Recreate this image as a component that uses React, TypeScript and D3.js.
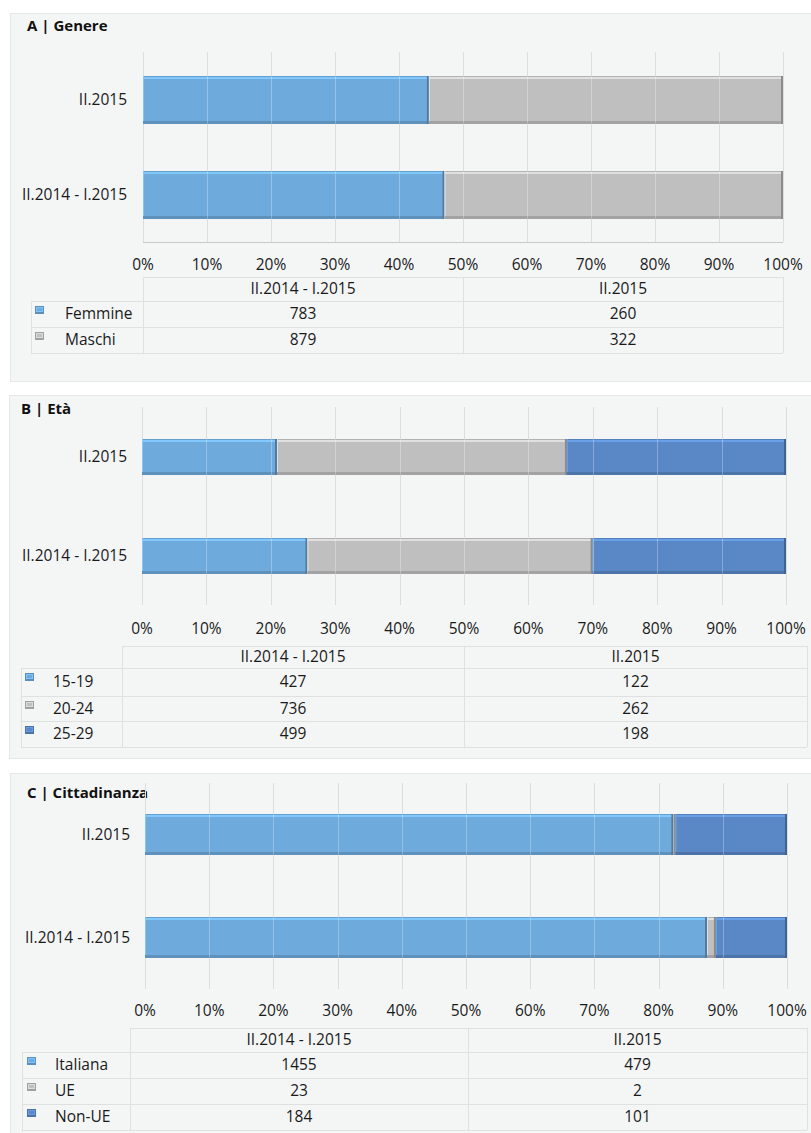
import React from "react";
import * as d3 from "d3";

// ---------- DATA ----------
const barPeriods = ["II.2015", "II.2014 - I.2015"]; // top to bottom in the bar chart
const tablePeriods = ["II.2014 - I.2015", "II.2015"]; // table column order
const tickValues = [0, 0.1, 0.2, 0.3, 0.4, 0.5, 0.6, 0.7, 0.8, 0.9, 1.0];

const genereTitle = "A | Genere";
const genereSeries = ["Femmine", "Maschi"];
const genereOld = [783, 879];
const genereNew = [260, 322];

const etaTitle = "B | Età";
const etaSeries = ["15-19", "20-24", "25-29"];
const etaOld = [427, 736, 499];
const etaNew = [122, 262, 198];

const cittTitle = "C | Cittadinanza";
const cittSeries = ["Italiana", "UE", "Non-UE"];
const cittOld = [1455, 23, 184];
const cittNew = [479, 2, 101];

const seriesColors = ["#6eaadb", "#bfbfbf", "#5a88c6"];

// ---------- LAYOUT ----------
const FONT = "'Open Sans', 'Noto Sans', sans-serif";
const FS = 15.5;
const TXT = "#1a1a1a";

type Layout = {
  bg: [number, number, number, number];
  titleX: number;
  titleY: number;
  x0: number;
  x1: number;
  gy0: number;
  gy1: number;
  barH: number;
  axisLine: boolean;
  tickY: number;
  catX: number;
  tLeft: number;
  tLab: number;
  tMid: number;
  tRight: number;
  rows: number[];
  markerX: number;
  labelX: number;
};

function Bar({ x, y, w, h, color }: { x: number; y: number; w: number; h: number; color: string }) {
  if (w <= 0) return null;
  const c = d3.color(color)!;
  const light = c.brighter(0.45).formatHex();
  const dark = c.darker(0.45).formatHex();
  const darker = c.darker(0.9).formatHex();
  return (
    <g>
      <rect x={x} y={y} width={w} height={h} fill={color} />
      <rect x={x} y={y} width={w} height={1} fill={c.darker(0.2).formatHex()} />
      <rect x={x} y={y + 1} width={w} height={2} fill={light} />
      <rect x={x} y={y} width={Math.min(1, w)} height={h} fill={light} />
      <rect x={x} y={y + h - 3} width={w} height={3} fill={dark} />
      <rect x={Math.max(x, x + w - 2)} y={y} width={Math.min(2, w)} height={h} fill={darker} />
    </g>
  );
}

function Marker({ x, y, color }: { x: number; y: number; color: string }) {
  const c = d3.color(color)!;
  return (
    <g>
      <rect x={x} y={y} width={9} height={8} fill={c.darker(0.5).formatHex()} />
      <rect x={x + 1} y={y + 1} width={7} height={5} fill={c.brighter(0.4).formatHex()} />
      <rect x={x + 2} y={y + 2} width={5} height={3} fill={color} />
    </g>
  );
}

function Panel({
  title,
  series,
  oldVals,
  newVals,
  L,
}: {
  title: string;
  series: string[];
  oldVals: number[];
  newVals: number[];
  L: Layout;
}) {
  const x = d3.scaleLinear().domain([0, 1]).range([L.x0, L.x1]);
  const y = d3.scaleBand<string>().domain(barPeriods).range([L.gy0, L.gy1]).padding(0);
  const valuesFor = (p: string) => (p === "II.2015" ? newVals : oldVals);
  const gridColor = "#dcdede";
  const lineColor = "#dfe1e1";
  const [bx, by, bw, bh] = L.bg;
  const nRows = series.length;

  return (
    <g>
      <rect x={bx + 0.5} y={by + 0.5} width={bw - bx} height={bh - by} fill="#f4f6f6" stroke="#e6e8e8" />
      <text x={L.titleX} y={L.titleY} fontFamily={FONT} fontWeight={700} fontSize={15} fill="#111">
        {title}
      </text>
      {/* gridlines under bars */}
      {tickValues.map((t) => (
        <line key={"g" + t} x1={Math.round(x(t)) + 0.5} x2={Math.round(x(t)) + 0.5} y1={L.gy0} y2={L.gy1} stroke={gridColor} strokeWidth={1} />
      ))}
      {L.axisLine && (
        <line x1={L.x0} x2={L.x1} y1={L.gy1 + 0.5} y2={L.gy1 + 0.5} stroke="#c8caca" strokeWidth={1} />
      )}
      {/* bars */}
      {barPeriods.map((p) => {
        const vals = valuesFor(p);
        const total = d3.sum(vals);
        const stack = d3.cumsum(vals).map((v) => v / total);
        const cy = (y(p) as number) + y.bandwidth() / 2;
        const top = Math.round(cy - L.barH / 2);
        return (
          <g key={p}>
            {vals.map((v, i) => {
              const s0 = i === 0 ? 0 : stack[i - 1];
              const s1 = stack[i];
              const xa = x(s0);
              const xb = x(s1);
              return <Bar key={i} x={xa} y={top} w={xb - xa} h={L.barH} color={seriesColors[i]} />;
            })}
            <text x={L.catX} y={cy} dy="0.35em" textAnchor="end" fontFamily={FONT} fontSize={FS} fill={TXT}>
              {p}
            </text>
          </g>
        );
      })}
      {/* gridlines over bars (lighter) */}
      {tickValues.slice(1, -1).map((t) =>
        barPeriods.map((p) => {
          const cy = (y(p) as number) + y.bandwidth() / 2;
          const top = Math.round(cy - L.barH / 2);
          return (
            <line
              key={"o" + t + p}
              x1={Math.round(x(t)) + 0.5}
              x2={Math.round(x(t)) + 0.5}
              y1={top}
              y2={top + L.barH}
              stroke="rgba(255,255,255,0.28)"
              strokeWidth={1}
            />
          );
        })
      )}
      {/* tick labels */}
      {tickValues.map((t) => (
        <text key={"t" + t} x={x(t)} y={L.tickY} dy="0.35em" textAnchor="middle" fontFamily={FONT} fontSize={FS} fill={TXT}>
          {d3.format(".0%")(t)}
        </text>
      ))}
      {/* data table */}
      <g>
        <line x1={L.tLab} x2={L.tRight} y1={L.rows[0] + 0.5} y2={L.rows[0] + 0.5} stroke={lineColor} />
        {L.rows.slice(1).map((ry, i) => (
          <line key={"h" + i} x1={L.tLeft} x2={L.tRight} y1={ry + 0.5} y2={ry + 0.5} stroke={lineColor} />
        ))}
        <line x1={L.tLeft + 0.5} x2={L.tLeft + 0.5} y1={L.rows[1]} y2={L.rows[nRows + 1]} stroke={lineColor} />
        {[L.tLab, L.tMid, L.tRight].map((vx, i) => (
          <line key={"v" + i} x1={vx + 0.5} x2={vx + 0.5} y1={L.rows[0]} y2={L.rows[nRows + 1]} stroke={lineColor} />
        ))}
        {tablePeriods.map((p, ci) => {
          const cx = ci === 0 ? (L.tLab + L.tMid) / 2 : (L.tMid + L.tRight) / 2;
          return (
            <text key={"hd" + p} x={cx} y={(L.rows[0] + L.rows[1]) / 2} dy="0.35em" textAnchor="middle" fontFamily={FONT} fontSize={FS} fill={TXT}>
              {p}
            </text>
          );
        })}
        {series.map((s, ri) => {
          const ry0 = L.rows[ri + 1];
          const ry1 = L.rows[ri + 2];
          const cy = (ry0 + ry1) / 2;
          return (
            <g key={"r" + s}>
              <Marker x={L.markerX} y={ry0 + 5} color={seriesColors[ri]} />
              <text x={L.labelX} y={cy} dy="0.35em" fontFamily={FONT} fontSize={FS} fill={TXT}>
                {s}
              </text>
              {tablePeriods.map((p, ci) => {
                const vals = p === "II.2015" ? newVals : oldVals;
                const cx = ci === 0 ? (L.tLab + L.tMid) / 2 : (L.tMid + L.tRight) / 2;
                return (
                  <text key={p} x={cx} y={cy} dy="0.35em" textAnchor="middle" fontFamily={FONT} fontSize={FS} fill={TXT}>
                    {vals[ri]}
                  </text>
                );
              })}
            </g>
          );
        })}
      </g>
    </g>
  );
}

const layoutA: Layout = {
  bg: [10, 13, 811, 381],
  titleX: 27,
  titleY: 31,
  x0: 143,
  x1: 783,
  gy0: 52,
  gy1: 242,
  barH: 48,
  axisLine: true,
  tickY: 265,
  catX: 127,
  tLeft: 31,
  tLab: 143,
  tMid: 463,
  tRight: 783,
  rows: [277, 301, 327, 353],
  markerX: 35,
  labelX: 65,
};

const layoutB: Layout = {
  bg: [9, 395, 811, 758],
  titleX: 21,
  titleY: 414,
  x0: 142,
  x1: 786,
  gy0: 407,
  gy1: 605,
  barH: 36,
  axisLine: false,
  tickY: 629,
  catX: 127,
  tLeft: 21,
  tLab: 122,
  tMid: 464,
  tRight: 807,
  rows: [646, 668, 696, 721, 747],
  markerX: 25,
  labelX: 53,
};

const layoutC: Layout = {
  bg: [10, 773, 811, 1140],
  titleX: 27,
  titleY: 798,
  x0: 145,
  x1: 787,
  gy0: 783,
  gy1: 989,
  barH: 41,
  axisLine: false,
  tickY: 1011,
  catX: 130,
  tLeft: 22,
  tLab: 130,
  tMid: 468,
  tRight: 807,
  rows: [1028, 1052, 1078, 1104, 1130],
  markerX: 27,
  labelX: 55,
};

export default function App() {
  return (
    <div style={{ position: "absolute", left: 0, top: 0 }}>
      <svg width={811} height={1133} style={{ display: "block", background: "#fff" }}>
        <Panel title={genereTitle} series={genereSeries} oldVals={genereOld} newVals={genereNew} L={layoutA} />
        <Panel title={etaTitle} series={etaSeries} oldVals={etaOld} newVals={etaNew} L={layoutB} />
        <Panel title={cittTitle} series={cittSeries} oldVals={cittOld} newVals={cittNew} L={layoutC} />
      </svg>
    </div>
  );
}
